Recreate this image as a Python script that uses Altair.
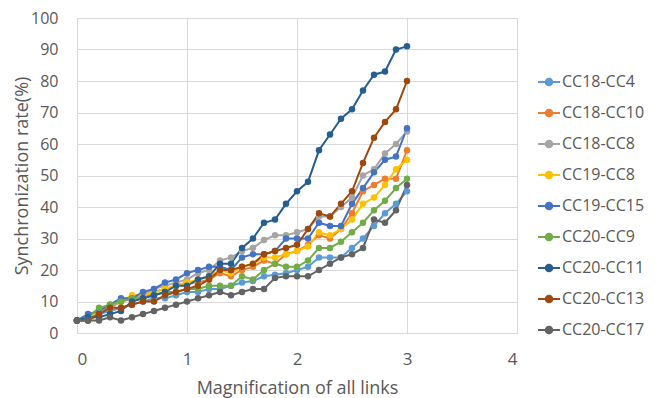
import altair as alt
import pandas as pd

magnification = [0.0, 0.1, 0.2, 0.3, 0.4, 0.5, 0.6, 0.7, 0.8, 0.9, 1.0,
                 1.1, 1.2, 1.3, 1.4, 1.5, 1.6, 1.7, 1.8, 1.9, 2.0,
                 2.1, 2.2, 2.3, 2.4, 2.5, 2.6, 2.7, 2.8, 2.9, 3.0]

series_names = ["CC18-CC4", "CC18-CC10", "CC18-CC8", "CC19-CC8", "CC19-CC15",
                "CC20-CC9", "CC20-CC11", "CC20-CC13", "CC20-CC17"]

cc18_cc4 = [4, 5, 6, 7, 8, 9, 10, 11, 11, 12, 13, 13, 14, 14, 15, 16, 16.5, 18, 18.5, 19, 20,
            21, 24, 24, 24, 27, 30, 34, 38, 41, 45]
cc18_cc10 = [4, 4, 6, 8, 10, 11, 11, 13, 14, 15, 16, 16, 17, 19, 18, 20, 21, 23, 22, 25, 26,
             28, 31, 30, 33, 38, 45, 47, 49, 49, 58]
cc18_cc8 = [4, 5, 7, 8, 10, 11, 12, 14, 15, 16, 17, 19, 20, 23, 24, 26, 27, 29.5, 31, 31, 32,
            33, 37, 37, 40, 43, 50, 52, 57, 60, 64]
cc19_cc8 = [4, 5, 7, 9, 10, 12, 12, 13, 14, 15, 16, 17, 18, 20, 19, 21, 22, 24, 24, 25, 26,
            27.5, 32, 31, 33, 36, 41, 43, 47, 52, 55]
cc19_cc15 = [4, 6, 7, 9, 11, 11, 13, 14, 16, 17, 19, 20, 21, 21, 20, 24, 25, 25, 26, 30, 30,
             30, 35, 34, 34, 41, 46, 51, 55, 56, 65]
cc20_cc9 = [4, 5, 8, 9, 10, 11, 11, 12, 13, 13, 14, 14, 15, 15, 15, 18, 17, 20, 22, 21, 21,
            23, 27, 27, 29, 32, 35, 39, 42, 46, 49]
cc20_cc11 = [4, 5, 5, 6, 7, 10, 11, 12, 13, 15, 15, 17, 18, 22, 22, 27, 30, 35, 36, 41, 45,
             48, 58, 63, 68, 71, 77, 82, 83, 90, 91]
cc20_cc13 = [4, 4, 6, 8, 8, 9, 10, 10, 12, 13, 14, 15, 17, 20, 20, 21, 22, 25, 26, 27, 28,
             33, 38, 37, 41, 45, 54, 62, 67, 71, 80]
cc20_cc17 = [4, 4, 4, 5, 4, 5, 6, 7, 8, 9, 10, 11, 12, 13, 12, 13, 14, 14, 17.5, 18, 18,
             18, 20, 22, 24, 25, 27, 36, 35, 39, 47]

series_values = [cc18_cc4, cc18_cc10, cc18_cc8, cc19_cc8, cc19_cc15,
                 cc20_cc9, cc20_cc11, cc20_cc13, cc20_cc17]

colors = ["#5B9BD5", "#ED7D31", "#A5A5A5", "#FFC000", "#4472C4",
          "#70AD47", "#255E91", "#9E480E", "#636363"]

x_ticks = [0, 1, 2, 3, 4]
y_ticks = [0, 10, 20, 30, 40, 50, 60, 70, 80, 90, 100]

rows = []
for si, (name, vals) in enumerate(zip(series_names, series_values)):
    for xv, yv in zip(magnification, vals):
        rows.append({"x": xv, "rate": yv, "series": name, "idx": si})
df = pd.DataFrame(rows)

FONT = "Open Sans"
TXT = "#595959"

legend_symbol = "M-1,0H1M-0.3,0A0.3,0.3 0 1,0 0.3,0A0.3,0.3 0 1,0 -0.3,0Z"

chart = alt.Chart(df).mark_line(
    strokeWidth=2,
    point=alt.OverlayMarkDef(filled=True, size=42),
).encode(
    x=alt.X("x:Q", scale=alt.Scale(domain=[0, 4], nice=False),
            axis=alt.Axis(values=x_ticks, title="Magnification of all links",
                          format="d", ticks=False, labelPadding=18,
                          titleX=220, titleY=60, titleBaseline="alphabetic",
                          gridColor="#D9D9D9",
                          domainColor="#D9D9D9", labelColor=TXT, titleColor=TXT,
                          labelFontSize=17, titleFontSize=18, titleFontWeight="normal",
                          labelFont=FONT, titleFont=FONT)),
    y=alt.Y("rate:Q", scale=alt.Scale(domain=[0, 100], nice=False),
            axis=alt.Axis(values=y_ticks, title="Synchronization rate(%)",
                          ticks=False, labelPadding=19,
                          titleX=-50, titleY=157.5, titleBaseline="alphabetic",
                          titleAngle=270,
                          gridColor="#D9D9D9", domainColor="#D9D9D9",
                          labelColor=TXT, titleColor=TXT,
                          labelFontSize=16, titleFontSize=18, titleFontWeight="normal",
                          labelFont=FONT, titleFont=FONT)),
    color=alt.Color("series:N", scale=alt.Scale(domain=series_names, range=colors),
                    legend=alt.Legend(title=None, orient="none", legendX=460, legendY=52,
                                      symbolType=legend_symbol, symbolSize=484,
                                      symbolStrokeWidth=2, labelFontSize=16,
                                      labelFont=FONT, labelColor=TXT, labelOffset=1,
                                      rowPadding=11, padding=0)),
    order=alt.Order("x:Q"),
).properties(
    width=440, height=315,
    autosize=alt.AutoSizeParams(type="none"),
    padding={"left": 69, "top": 10, "right": 130, "bottom": 65},
).configure_view(stroke=None)

chart.save("out.html", embed_options={"renderer": "svg", "actions": False})
